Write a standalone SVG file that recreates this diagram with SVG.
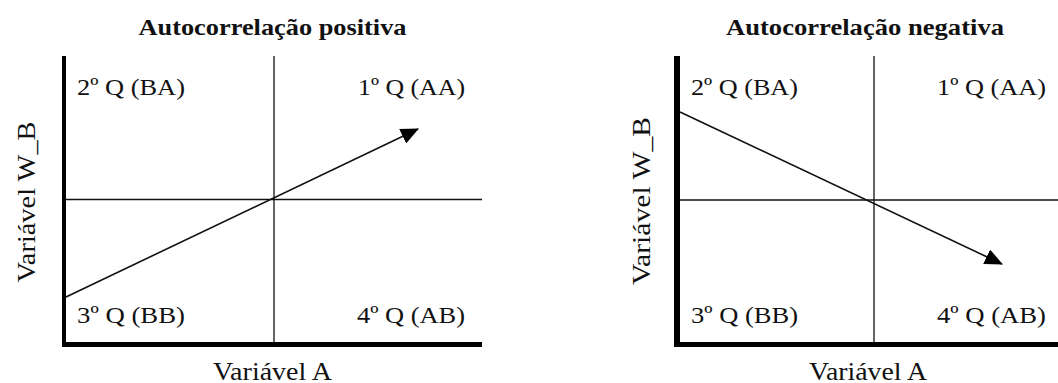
<svg xmlns="http://www.w3.org/2000/svg" width="1058" height="383" viewBox="0 0 1058 383">
<style>
.t{font-family:"Liberation Serif","Times New Roman",serif;fill:#111;}
.title{font-size:23px;font-weight:bold;text-anchor:middle;}
.q{font-size:24px;}
.ax{font-size:25px;text-anchor:middle;}
.thin{stroke:#111;stroke-width:1.3;fill:none;}
.arr{stroke:#111;stroke-width:1.6;fill:none;marker-end:url(#ah);}
.thick{stroke:#000;fill:none;}
</style>
<defs>
<marker id="ah" markerUnits="userSpaceOnUse" markerWidth="18" markerHeight="16" viewBox="0 0 18 16" refX="17" refY="8" orient="auto">
<path d="M0,0 L18,8 L0,16 Z" fill="#000"/>
</marker>
</defs>
<rect width="1058" height="383" fill="#fff"/>

<g id="panel-positive">
<text class="t title" x="272.5" y="35" textLength="268" lengthAdjust="spacingAndGlyphs">Autocorrelação positiva</text>
<g id="axes-positive">
<line class="thick" x1="64" y1="56" x2="64" y2="347" stroke-width="4"/>
<line class="thick" x1="62" y1="344.5" x2="482" y2="344.5" stroke-width="5"/>
<line class="thin" x1="274" y1="56" x2="274" y2="342"/>
<line class="thin" x1="66" y1="199.5" x2="482" y2="199.5"/>
</g>
<g id="q2-pos"><text class="t q" x="77" y="95" textLength="108" lengthAdjust="spacingAndGlyphs">2º Q (BA)</text></g>
<g id="q1-pos"><text class="t q" x="358" y="95" textLength="107" lengthAdjust="spacingAndGlyphs">1º Q (AA)</text></g>
<g id="q3-pos"><text class="t q" x="77" y="323" textLength="108" lengthAdjust="spacingAndGlyphs">3º Q (BB)</text></g>
<g id="q4-pos"><text class="t q" x="357" y="323" textLength="108" lengthAdjust="spacingAndGlyphs">4º Q (AB)</text></g>
<text class="t ax" x="272.5" y="380" textLength="119" lengthAdjust="spacingAndGlyphs">Variável A</text>
<text class="t ax" transform="translate(35,202) rotate(-90)" x="0" y="0" textLength="161" lengthAdjust="spacingAndGlyphs">Variável W_B</text>
</g>

<g id="panel-negative">
<text class="t title" x="865" y="35" textLength="278" lengthAdjust="spacingAndGlyphs">Autocorrelação negativa</text>
<g id="axes-negative">
<line class="thick" x1="677" y1="56" x2="677" y2="347" stroke-width="6"/>
<line class="thick" x1="674" y1="344.5" x2="1058" y2="344.5" stroke-width="5"/>
<line class="thin" x1="874" y1="56" x2="874" y2="342"/>
<line class="thin" x1="680" y1="200" x2="1058" y2="200"/>
</g>
<g id="q2-neg"><text class="t q" x="691" y="95" textLength="107" lengthAdjust="spacingAndGlyphs">2º Q (BA)</text></g>
<g id="q1-neg"><text class="t q" x="937" y="95" textLength="109" lengthAdjust="spacingAndGlyphs">1º Q (AA)</text></g>
<g id="q3-neg"><text class="t q" x="691" y="323" textLength="107" lengthAdjust="spacingAndGlyphs">3º Q (BB)</text></g>
<g id="q4-neg"><text class="t q" x="937" y="323" textLength="109" lengthAdjust="spacingAndGlyphs">4º Q (AB)</text></g>
<text class="t ax" x="868" y="380" textLength="118" lengthAdjust="spacingAndGlyphs">Variável A</text>
<text class="t ax" transform="translate(650,201) rotate(-90)" x="0" y="0" textLength="168" lengthAdjust="spacingAndGlyphs">Variável W_B</text>
</g>

<g id="connectors">
<line class="arr" x1="66" y1="297" x2="418" y2="129"/>
<line class="arr" x1="680" y1="112" x2="1002" y2="264"/>
</g>
</svg>
